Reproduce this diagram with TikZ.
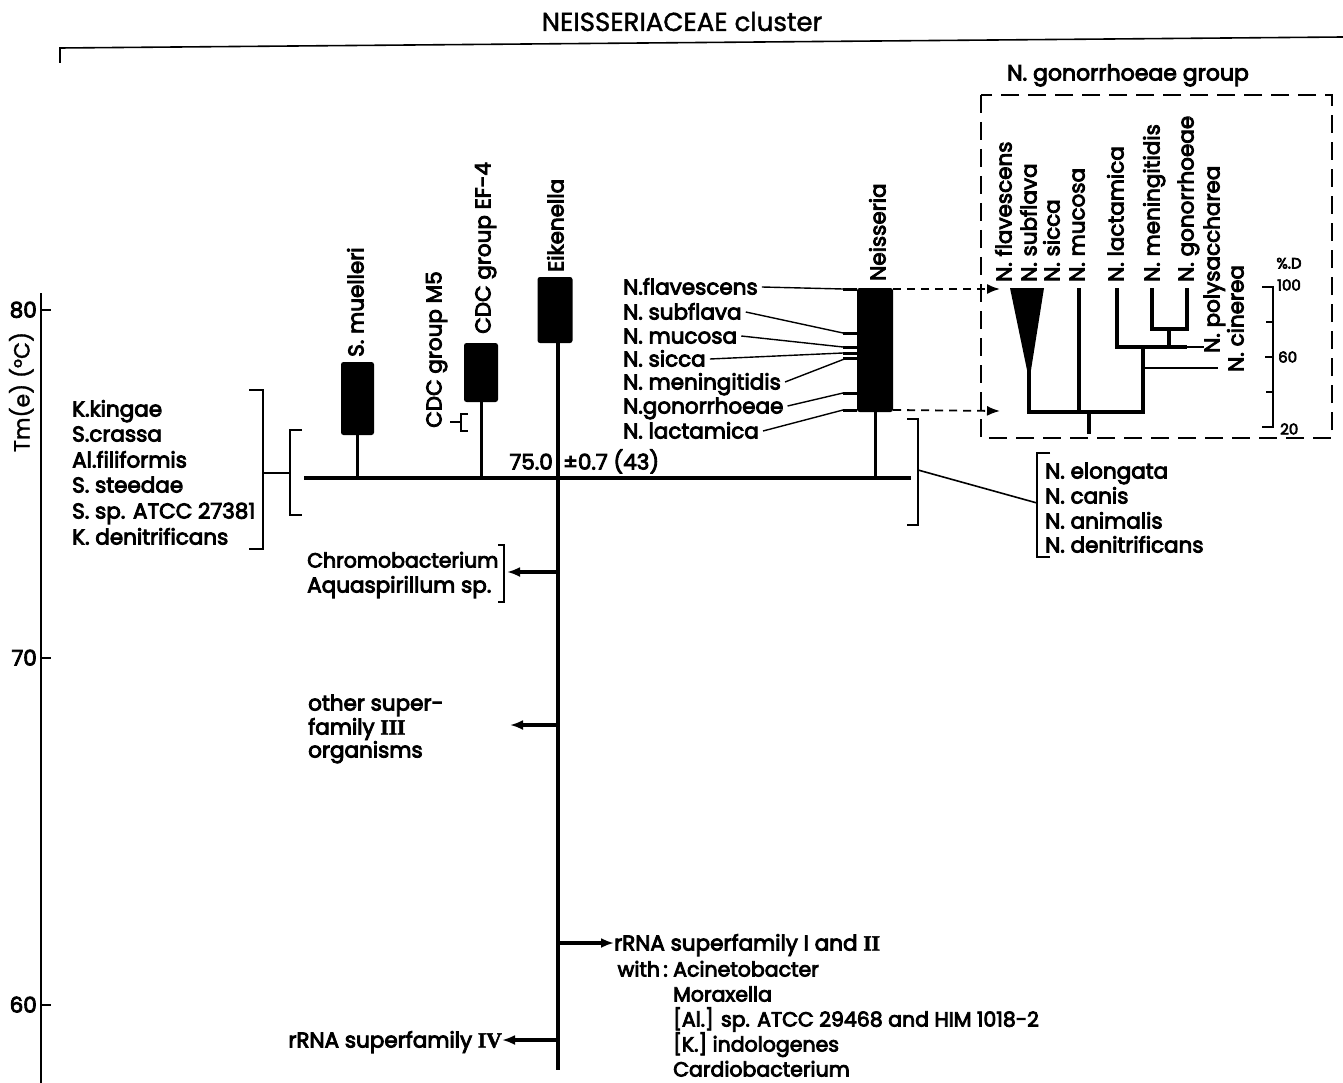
\documentclass[tikz,border=0pt]{standalone}
\usepackage{fontspec}
\setmainfont{Poppins}[FakeBold=1.5]
\newfontfamily\heavy{Poppins}[FakeBold=4]
\newfontfamily\rmnum{Liberation Serif}[FakeBold=2]
\usetikzlibrary{arrows.meta}
\newcommand\tf{\heavy\fontsize{21.5}{25}\selectfont}
\newcommand\tfs{\heavy\fontsize{20.5}{25}\selectfont}
\newcommand\smf{\heavy\fontsize{15}{18}\selectfont}
\newcommand\RN[1]{{\rmnum\bfseries #1}}
\begin{document}
\begin{tikzpicture}[x=1pt,y=-1pt,
  txt/.style={inner sep=0pt,font=\tf,text height=15pt,text depth=0pt},
  lt/.style={txt,anchor=west},
  rot/.style={txt,rotate=90,anchor=west},
  bar/.style={fill=black,draw=none,rounded corners=2.5pt,inner sep=0pt},
  thick line/.style={line width=3.4pt},
  stem/.style={line width=3pt},
  thin line/.style={line width=1.4pt},
  brk/.style={line width=1.6pt},
  arr/.style={line width=3.2pt,-{Latex[length=13pt,width=10pt]}},
  darr/.style={line width=1.8pt,dash pattern=on 8pt off 6pt,-{Latex[length=13pt,width=10pt]}},
  dend/.style={line width=3.2pt,line join=miter}]
\useasboundingbox (0,0) rectangle (1343,1083);

% title and top bracket
\node[txt,font=\fontsize{26}{30}\selectfont,text height=18pt,anchor=center] (title) at (682,22) {NEISSERIACEAE cluster};
\coordinate (tl0) at (60,63);
\coordinate (tl1) at (60,48);
\coordinate (tl2) at (1343,37);
\draw[brk] (tl0) -- (tl1) -- (tl2);

% y axis
\coordinate (ax0) at (41,293);
\coordinate (ax1) at (41,1083);
\draw[line width=2.4pt] (ax0) -- (ax1);
\foreach \yy/\lab/\nm in {310/80/t80,658/70/t70,1005/60/t60}{
  \draw[line width=2pt] (41,\yy) -- (51,\yy);
  \node[txt,anchor=east] (\nm) at (37,\yy) {\lab};
}
\node[txt,font=\fontsize{22}{26}\selectfont,rotate=90,anchor=center] (ylab) at (22,392) {Tm(e) (°C)};

% main lines
\coordinate (hl) at (304,478);
\coordinate (hr) at (911,478);
\coordinate (vt) at (558,343);
\coordinate (vb) at (558,1070);
\draw[thick line] (hl) -- (hr);
\draw[thick line] (vt) -- (vb);

% boxes
\node[bar,minimum width=33pt,minimum height=73pt] (smu) at (357.5,398.5) {};
\node[bar,minimum width=34pt,minimum height=59pt] (ef4) at (481,372.5) {};
\node[bar,minimum width=35pt,minimum height=66pt] (eik) at (555,310) {};
\node[bar,minimum width=36pt,minimum height=124pt] (nei) at (875,350) {};
\draw[stem] (smu.south) -- (smu.south |- hl);
\draw[stem] (ef4.south) -- (ef4.south |- hl);
\draw[stem] (nei.south) -- (nei.south |- hl);

% rotated labels
\node[rot] (lsmu) at (356,357) {S. muelleri};
\node[rot] (lm5) at (434,428) {CDC group M5};
\node[rot] (lef4) at (483,334) {CDC group EF-4};
\node[rot] (leik) at (556,272) {Eikenella};
\node[rot] (lnei) at (878,281) {Neisseria};

% CDC M5 bracket
\draw[brk] (468,414) -- (461,414) -- (461,431) -- (468,431);
\draw[brk] (450,422) -- (461,422);

% 75.0 label
\node[txt,anchor=east] (v75) at (553,462) {75.0};
\node[txt,anchor=west] (v07) at (563,462) {±0.7 (43)};

% left list
\node[lt] (kk) at (72,409) {K.kingae};
\node[lt] (sc) at (72,434) {S.crassa};
\node[lt] (af) at (72,460) {Al.filiformis};
\node[lt] (ss) at (72,485) {S. steedae};
\node[lt] (sa) at (72,511) {S. sp. ATCC 27381};
\node[lt] (kd) at (72,537) {K. denitrificans};
\draw[brk] (249,390) -- (263,390) -- (263,549) -- (249,549);
\draw[brk] (263,473) -- (290,473);
\draw[brk] (302,430) -- (290,430) -- (290,515) -- (302,515);

% Neisseria list
\node[lt] (nfl) at (623,287) {N.flavescens};
\node[lt] (nsu) at (623,312) {N. subflava};
\node[lt] (nmu) at (623,336) {N. mucosa};
\node[lt] (nsi) at (623,359) {N. sicca};
\node[lt] (nme) at (623,382) {N. meningitidis};
\node[lt] (ngo) at (623,406) {N.gonorrhoeae};
\node[lt] (nla) at (623,431) {N. lactamica};
\foreach \yy/\nm in {289/s1,333/s2,347/s3,353/s4,358/s5,393/s6,410/s7}{
  \coordinate (\nm) at (843,\yy);
  \draw[stem] (\nm) -- (nei.west |- \nm);
}
\draw[thin line] ([xshift=4pt]nfl.east) -- (s1);
\draw[thin line] ([xshift=4pt]nsu.east) -- (s2);
\draw[thin line] ([xshift=4pt]nmu.east) -- (s3);
\draw[thin line] ([xshift=4pt]nsi.east) -- (s4);
\draw[thin line] ([xshift=4pt]nme.east) -- ([xshift=4pt]s5);
\draw[thin line] ([xshift=4pt]ngo.east) -- (s6);
\draw[thin line] ([xshift=4pt]nla.east) -- (s7);

% right bracket and list
\draw[brk] (907,419) -- (918,419) -- (918,525) -- (907,525);
\draw[brk] (918,470) -- (1037,503);
\draw[brk] (1050,453) -- (1037,453) -- (1037,557) -- (1050,557);
\node[lt] (nel) at (1045,471) {N. elongata};
\node[lt] (nca) at (1045,496) {N. canis};
\node[lt] (nan) at (1045,521) {N. animalis};
\node[lt] (nde) at (1045,545) {N. denitrificans};

% left arrows
\node[lt,font=\tfs] (chr) at (307,560) {Chromobacterium};
\node[lt] (aqu) at (307,585) {Aquaspirillum sp.};
\draw[brk] (498,545) -- (504,545) -- (504,602) -- (498,602);
\coordinate (a1) at (558,572);
\draw[arr] (a1) -- (507,572);
\node[lt] (os1) at (308,703) {other super-};
\node[lt] (os2) at (308,727) {family \RN{III}};
\node[lt] (os3) at (308,750) {organisms};
\coordinate (a2) at (558,725);
\draw[arr] (a2) -- (510,725);
\node[txt,anchor=east] (r4) at (502,1040) {rRNA superfamily \RN{IV}};
\coordinate (a4) at (558,1040);
\draw[arr] (a4) -- (r4.east);

% bottom right text
\node[lt] (r12) at (614,943) {rRNA superfamily I and \RN{II}};
\coordinate (a3) at (558,943);
\draw[arr] (a3) -- (r12.west);
\node[txt,font=\tfs,anchor=east] (with) at (668,969) {with\,:};
\node[lt,font=\tfs] (aci) at (673,969) {Acinetobacter};
\node[lt,font=\tfs] (mor) at (673,994) {Moraxella};
\node[lt,font=\tfs] (alsp) at (673,1019) {[Al.] sp. ATCC 29468 and HIM 1018-2};
\node[lt,font=\tfs] (kin) at (673,1044) {[K.] indologenes};
\node[lt,font=\tfs] (car) at (673,1069) {Cardiobacterium};

% N. gonorrhoeae group box
\node[txt,font=\heavy\fontsize{22}{26}\selectfont,anchor=center] (ggt) at (1128,73) {N. gonorrhoeae group};
\draw[line width=1.8pt,dash pattern=on 18pt off 9pt] (981,95) rectangle (1332,438);
\draw[darr] (nei.east |- s1) -- (1000,289);
\draw[darr] (nei.east |- s7) -- (1000,411);

% inner labels
\node[rot] (gfl) at (1004,282) {N. flavescens};
\node[rot] (gsu) at (1029,282) {N. subflava};
\node[rot] (gsi) at (1052,282) {N. sicca};
\node[rot] (gmu) at (1077,282) {N. mucosa};
\node[rot] (gla) at (1116,282) {N. lactamica};
\node[rot] (gme) at (1152,282) {N. meningitidis};
\node[rot] (ggo) at (1186,282) {N. gonorrhoeae};
\node[rot] (gpo) at (1212,353) {N. polysaccharea};
\node[rot] (gci) at (1236,372) {N. cinerea};

% dendrogram
\fill (1010,288) -- (1044,288) -- (1031,370) -- (1027,370) -- cycle;
\draw[dend] (1029,368) -- (1029,412) -- (1143,412) -- (1143,347);
\draw[dend] (1079,288) -- (1079,412);
\draw[dend] (1089,412) -- (1089,434);
\draw[dend] (1117,288) -- (1117,347) -- (1187,347);
\draw[thin line] (1187,347) -- (1204,347);
\draw[dend] (1152,288) -- (1152,329) -- (1187,329) -- (1187,288);
\draw[dend] (1169,329) -- (1169,347);
\draw[thin line] (1143,368) -- (1218,368);

% scale
\draw[brk] (1262,287) -- (1273,287) -- (1273,427) -- (1262,427);
\draw[brk] (1266,322) -- (1273,322);
\draw[brk] (1265,357) -- (1273,357);
\draw[brk] (1266,392) -- (1273,392);
\node[txt,font=\smf,text height=11pt,anchor=center] (pd) at (1289,263) {\%.D};
\node[txt,font=\smf,text height=11pt,anchor=west] (s100) at (1277,285) {100};
\node[txt,font=\smf,text height=11pt,anchor=west] (s60) at (1278,357) {60};
\node[txt,font=\smf,text height=11pt,anchor=west] (s20) at (1280,429) {20};
\end{tikzpicture}
\end{document}
